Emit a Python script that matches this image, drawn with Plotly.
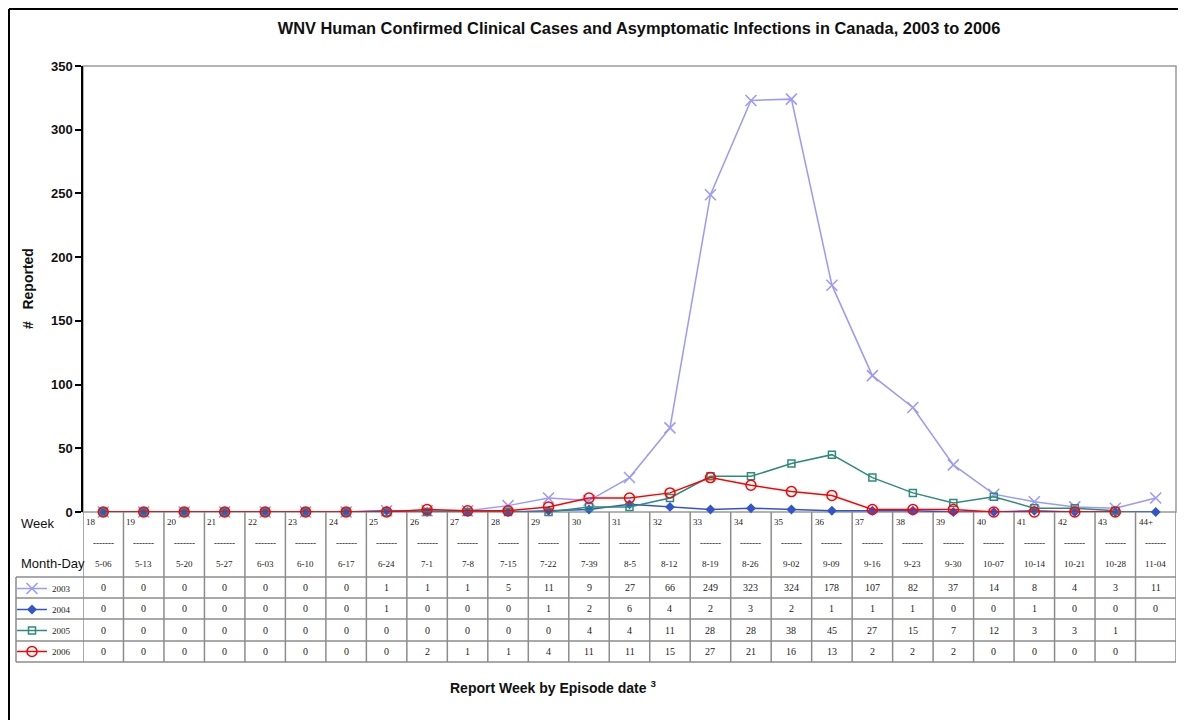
import plotly.graph_objects as go

weeks = ["18", "19", "20", "21", "22", "23", "24", "25", "26", "27", "28", "29", "30", "31",
         "32", "33", "34", "35", "36", "37", "38", "39", "40", "41", "42", "43", "44+"]
month_day = ["5-06", "5-13", "5-20", "5-27", "6-03", "6-10", "6-17", "6-24", "7-1", "7-8", "7-15",
             "7-22", "7-39", "8-5", "8-12", "8-19", "8-26", "9-02", "9-09", "9-16", "9-23", "9-30",
             "10-07", "10-14", "10-21", "10-28", "11-04"]
y2003 = [0, 0, 0, 0, 0, 0, 0, 1, 1, 1, 5, 11, 9, 27, 66, 249, 323, 324, 178, 107, 82, 37, 14, 8, 4, 3, 11]
y2004 = [0, 0, 0, 0, 0, 0, 0, 1, 0, 0, 0, 1, 2, 6, 4, 2, 3, 2, 1, 1, 1, 0, 0, 1, 0, 0, 0]
y2005 = [0, 0, 0, 0, 0, 0, 0, 0, 0, 0, 0, 0, 4, 4, 11, 28, 28, 38, 45, 27, 15, 7, 12, 3, 3, 1, None]
y2006 = [0, 0, 0, 0, 0, 0, 0, 0, 2, 1, 1, 4, 11, 11, 15, 27, 21, 16, 13, 2, 2, 2, 0, 0, 0, 0, None]
years = ["2003", "2004", "2005", "2006"]

series = [y2003, y2004, y2005, y2006]
colors = ["#9999ff", "#3355cc", "#2e8b7a", "#ff0000"]
symbols = ["x-thin-open", "diamond", "square-open", "circle-open"]
msizes = [11, 6, 7, 10]

OFF = 8  # page body margin
W, H = 1170, 712
# page-pixel layout of the plot area: x 83..1176, y 66..512
L = 83 - OFF
T = 66 - OFF
R = W - (1176 - OFF)
B = H - (512 - OFF)
PW = W - L - R
PH = H - T - B
n = len(weeks)


def py(p):  # page pixel y -> paper y
    return (H - B - (p - OFF)) / PH


def px(p):  # page pixel x -> paper x
    return ((p - OFF) - L) / PW


fig = go.Figure()
xs = list(range(n))
for i, (yr, ys) in enumerate(zip(years, series)):
    fig.add_trace(go.Scatter(
        x=xs, y=ys, name=yr, mode="lines+markers",
        line=dict(color=colors[i], width=1.5),
        marker=dict(symbol=symbols[i], size=msizes[i], color=colors[i],
                    line=dict(color=colors[i], width=1.5)),
        legendgroup=yr, cliponaxis=False,
    ))

shapes = []
grid = dict(color="#8c8c8c", width=1.5)
# plot area border
shapes.append(dict(type="rect", xref="paper", yref="paper", x0=0, x1=1, y0=0, y1=1,
                   line=dict(color="#9a9a9a", width=1.5), layer="below"))
# outer frame (top and left)
shapes.append(dict(type="line", xref="paper", yref="paper", x0=px(9), x1=px(9), y0=py(9), y1=py(720),
                   line=dict(color="black", width=2)))
shapes.append(dict(type="line", xref="paper", yref="paper", x0=px(9), x1=px(1178), y0=py(9), y1=py(9),
                   line=dict(color="black", width=2)))

row_lines = [577, 598, 619, 641, 662]
for rl in row_lines:
    shapes.append(dict(type="line", xref="paper", yref="paper", x0=px(16), x1=1, y0=py(rl), y1=py(rl), line=grid))
shapes.append(dict(type="line", xref="paper", yref="paper", x0=px(16), x1=px(16), y0=py(577), y1=py(662), line=grid))
for i in range(n + 1):
    shapes.append(dict(type="line", xref="x", yref="paper", x0=i - 0.5, x1=i - 0.5,
                       y0=py(512), y1=py(662), line=grid))

annotations = []
tfont = dict(family="Liberation Serif, Times New Roman, serif", size=9, color="#222")
nfont = dict(family="Liberation Serif, Times New Roman, serif", size=10, color="#222")
for i in range(n):
    annotations.append(dict(x=i - 0.5, xref="x", y=py(515), yref="paper", text=weeks[i],
                            showarrow=False, xanchor="left", yanchor="top", xshift=1, font=tfont))
    annotations.append(dict(x=i, xref="x", y=py(543), yref="paper", text="<b>-------</b>",
                            showarrow=False, xanchor="center", yanchor="middle", font=tfont))
    annotations.append(dict(x=i, xref="x", y=py(564), yref="paper", text=month_day[i],
                            showarrow=False, xanchor="center", yanchor="middle", font=tfont))
row_centers = [587.5, 608.5, 630, 651.5]
for r, ys in enumerate(series):
    for i, v in enumerate(ys):
        if v is None:
            continue
        annotations.append(dict(x=i, xref="x", y=py(row_centers[r]), yref="paper", text=str(v),
                                showarrow=False, xanchor="center", yanchor="middle", font=nfont))

afont = dict(family="Liberation Sans, Arial, sans-serif", size=13, color="#111")
annotations.append(dict(x=px(19), xref="paper", y=py(523), yref="paper", text="Week", showarrow=False,
                        xanchor="left", yanchor="middle", font=afont))
annotations.append(dict(x=px(19), xref="paper", y=py(563), yref="paper", text="Month-Day", showarrow=False,
                        xanchor="left", yanchor="middle", font=afont))
annotations.append(dict(x=px(553), xref="paper", y=py(687), yref="paper",
                        text="<b>Report Week by Episode date <sup>3</sup></b>", showarrow=False,
                        xanchor="center", yanchor="middle",
                        font=dict(family="Liberation Sans, Arial, sans-serif", size=14, color="#111")))
annotations.append(dict(x=px(28), xref="paper", y=py(289), yref="paper",
                        text="<b>#   Reported</b>", showarrow=False, textangle=-90,
                        xanchor="center", yanchor="middle",
                        font=dict(family="Liberation Sans, Arial, sans-serif", size=14, color="#111")))

fig.update_layout(
    width=W, height=H,
    margin=dict(l=L, r=R, t=T, b=B, autoexpand=False),
    paper_bgcolor="white", plot_bgcolor="white",
    title=dict(text="<b>WNV Human Confirmed Clinical Cases and Asymptomatic Infections in Canada, 2003 to 2006</b>",
               xref="paper", x=px(639), xanchor="center", y=1 - (28 - OFF) / H, yanchor="middle",
               font=dict(family="Liberation Sans, Arial, sans-serif", size=16.4, color="#111")),
    xaxis=dict(range=[-0.5, n - 0.5], showticklabels=False, ticks="", showgrid=False,
               zeroline=False, showline=False, fixedrange=True),
    yaxis=dict(range=[0, 350], dtick=50, ticks="outside", ticklen=6, tickwidth=1.5, tickcolor="black",
               showline=True, linecolor="black", linewidth=1.5, showgrid=False, zeroline=False,
               tickfont=dict(family="Liberation Sans, Arial, sans-serif", size=13, color="#111"),
               tickprefix="<b>", ticksuffix="</b>"),
    showlegend=True,
    legend=dict(x=px(12), xanchor="left", y=py(574), yanchor="top", traceorder="grouped",
                tracegroupgap=2, bgcolor="rgba(0,0,0,0)", borderwidth=0,
                font=dict(family="Liberation Serif, Times New Roman, serif", size=9, color="#222")),
    shapes=shapes, annotations=annotations,
)

fig.write_html("out.html")
